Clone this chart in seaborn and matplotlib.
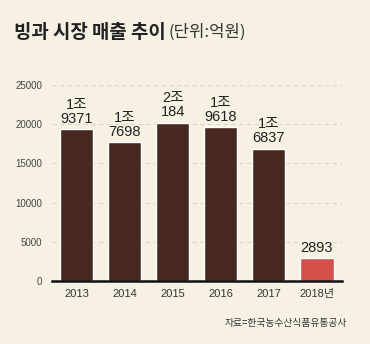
import matplotlib
matplotlib.use("Agg")
import matplotlib.pyplot as plt
import seaborn as sns
import pandas as pd

years = ["2013", "2014", "2015", "2016", "2017", "2018년"]
sales = [19371, 17698, 20184, 19618, 16837, 2893]
value_labels = ["1조\n9371", "1조\n7698", "2조\n184", "1조\n9618", "1조\n6837", "2893"]
yticks = [0, 5000, 10000, 15000, 20000, 25000]

BG = "#f6f1e3"
BROWN = "#48291f"
RED = "#d4504a"

sns.set_theme(style="white")
plt.rcParams["font.family"] = ["Liberation Sans", "Noto Sans CJK KR", "DejaVu Sans"]

df = pd.DataFrame({"year": years, "sales": sales})

fig = plt.figure(figsize=(3.70, 3.44), dpi=100, facecolor=BG)
ax = fig.add_axes([52/370, 1-281/344, (342-52)/370, (281-85)/344])
ax.set_facecolor(BG)

colors = [BROWN]*5 + [RED]
sns.barplot(data=df, x="year", y="sales", hue="year", palette=colors,
            legend=False, width=0.69, ax=ax, saturation=1)

ax.set_xlim(-0.51, 5.52)
ax.set_ylim(0, 25000)
ax.set_yticks(yticks)
ax.set_yticklabels([str(v) for v in yticks], fontsize=7, color="#444444")
ax.tick_params(axis="x", labelsize=8, colors="#333333", length=0, pad=6)
ax.tick_params(axis="y", length=0, pad=7)
ax.set_xlabel("")
ax.set_ylabel("")
ax.yaxis.grid(True, linestyle=(0, (4, 3)), color="#dcd6c8", linewidth=0.8)
ax.set_axisbelow(True)
for s in ["left", "right", "top"]:
    ax.spines[s].set_visible(False)
ax.spines["bottom"].set_color("#111111")
ax.spines["bottom"].set_linewidth(1.8)

for i, (v, lab) in enumerate(zip(sales, value_labels)):
    ax.text(i, v + 450, lab, ha="center", va="bottom", fontsize=10.5,
            color="#222222", linespacing=1.0, clip_on=False)

fig.text(14/370, 1-32/344, "빙과 시장 매출 추이", fontsize=13.6, fontweight="bold",
         color="#222222", va="center", ha="left",
         family=["Noto Sans CJK KR", "DejaVu Sans"])
fig.text(168/370, 1-32/344, "(단위:억원)", fontsize=12, color="#333333",
         va="center", ha="left", family=["Noto Sans CJK KR", "DejaVu Sans"])
fig.text(347/370, 1-323/344, "자료=한국농수산식품유통공사", fontsize=7, color="#333333",
         va="center", ha="right", family=["Noto Sans CJK KR", "DejaVu Sans"])

fig.savefig("out.png", dpi=100, facecolor=BG)
